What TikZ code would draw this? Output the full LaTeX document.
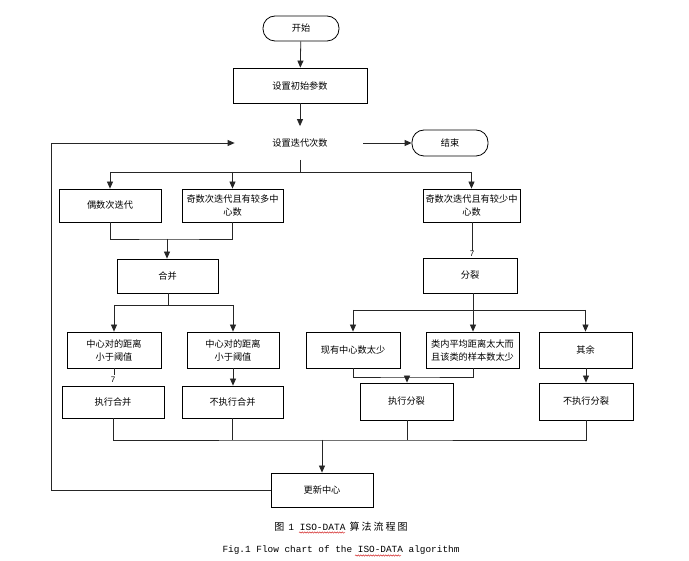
\documentclass[tikz,border=0pt]{standalone}
\usepackage{fontspec}
\setmainfont{Liberation Sans}
\newfontfamily\cjk{Noto Sans CJK SC}
\newfontfamily\capmono{Liberation Mono}
\usetikzlibrary{arrows.meta,decorations.pathmorphing,calc}
\begin{document}
\begin{tikzpicture}[x=1pt,y=-1pt,
  box/.style={draw=black,line width=0.8pt,fill=white,inner sep=0pt,align=center,
    font=\cjk\fontsize{9.2}{13}\selectfont},
  term/.style={box,rounded corners=12pt},
  ln/.style={draw=black!85,line width=0.8pt},
  arr/.style={ln,-{Triangle[length=7pt,width=6pt]}},
  seven/.style={font=\fontsize{8}{8}\selectfont,inner sep=0pt},
  wavy/.style={draw=red!80!black,line width=0.4pt,decorate,
    decoration={snake,amplitude=0.7pt,segment length=2.5pt}}]
\useasboundingbox (0,0) rectangle (689,561);
\fill[white] (0,0) rectangle (689,561);

% nodes
\node[term,minimum width=76pt,minimum height=25pt] (start) at (301,28.5) {开始};
\node[box,minimum width=134pt,minimum height=35pt] (init) at (300,85.5) {设置初始参数};
\node[box,draw=none,fill=none,minimum width=130pt,minimum height=33pt] (iter) at (300,143) {设置迭代次数};
\node[term,minimum width=76pt,minimum height=26pt] (end) at (450,143) {结束};

\node[box,minimum width=102pt,minimum height=33pt] (even) at (110,205.5) {偶数次迭代};
\node[box,minimum width=101pt,minimum height=33pt] (oddmore) at (232.5,205.5) {奇数次迭代且有较多中\\心数};
\node[box,minimum width=97pt,minimum height=33pt] (oddless) at (471.5,205.5) {奇数次迭代且有较少中\\心数};

\node[box,minimum width=101pt,minimum height=34pt] (merge) at (167.5,276) {合并};
\node[box,minimum width=94pt,minimum height=35pt] (split) at (470,275.5) {分裂};

\node[box,minimum width=94pt,minimum height=36pt] (d1) at (114,350) {中心对的距离\\小于阈值};
\node[box,minimum width=92pt,minimum height=36pt] (d2) at (233,350) {中心对的距离\\小于阈值};
\node[box,minimum width=94pt,minimum height=36pt] (few) at (353,350) {现有中心数太少};
\node[box,minimum width=93pt,minimum height=36pt] (big) at (472.5,350) {类内平均距离太大而\\且该类的样本数太少};
\node[box,minimum width=93pt,minimum height=36pt] (rest) at (585.5,350) {其余};

\node[box,minimum width=102pt,minimum height=32pt] (domerge) at (113,402) {执行合并};
\node[box,minimum width=101pt,minimum height=32pt] (nomerge) at (232.5,402) {不执行合并};
\node[box,minimum width=93pt,minimum height=37pt] (dosplit) at (406.5,401.5) {执行分裂};
\node[box,minimum width=94pt,minimum height=37pt] (nosplit) at (586,401.5) {不执行分裂};

\node[box,minimum width=102pt,minimum height=34pt] (update) at (322,490) {更新中心};

% small "7" marks
\node[seven] (s1) at (472,254) {7};
\node[seven] (s2) at (113,379.5) {7};

% helper coordinates
\coordinate (top) at (300,172);
\coordinate (j1) at (167,239);
\coordinate (j2) at (168,305);
\coordinate (j3) at (473,310);
\coordinate (j4) at (407,377);
\coordinate (bot) at (322,440);
\coordinate (fb1) at (51,490);
\coordinate (fb2) at (51,143);

% connectors
\draw[arr] (start) -- (init);
\draw[arr] (init) -- (iter);
\draw[arr] ([xshift=-2pt]iter.east) -- (end);
\draw[ln] (iter.south) -- (top);
\draw[ln] (even.north|-top) -- (oddless.north|-top);
\draw[arr] (even.north|-top) -- (even.north);
\draw[arr] (oddmore.north|-top) -- (oddmore.north);
\draw[arr] (oddless.north|-top) -- (oddless.north);

\draw[ln] (even.south) |- (j1) -| (oddmore.south);
\draw[arr] (j1) -- (merge.north-|j1);

\draw[ln] (merge.south-|j2) -- (j2);
\draw[ln] (d1.north|-j2) -- (d2.north|-j2);
\draw[arr] (d1.north|-j2) -- (d1.north);
\draw[arr] (d2.north|-j2) -- (d2.north);
\draw[ln] (d1.south) -- ($(d1.south)+(0,7)$);
\draw[arr] (d2.south) -- (nomerge.north-|d2.south);

\draw[ln] (oddless.south-|s1) -- ($(s1.north)+(0,-0.5)$);

\draw[ln] (split.south-|j3) -- (j3);
\draw[ln] (few.north|-j3) -- (rest.north|-j3);
\draw[arr] (few.north|-j3) -- (few.north);
\draw[arr] (j3) -- (big.north-|j3);
\draw[arr] (rest.north|-j3) -- (rest.north);
\draw[ln] (few.south) |- (j4) -| (big.south-|j3);
\draw[arr] (j4) -- (dosplit.north-|j4);
\draw[arr] (rest.south-|nosplit.north) -- (nosplit.north);

\draw[ln] (domerge.south) |- (bot) -| (nosplit.south);
\draw[ln] (nomerge.south) -- (nomerge.south|-bot);
\draw[ln] (dosplit.south-|j4) -- (j4|-bot);
\draw[arr] (bot) -- (update.north);

\draw[arr] (update.west) -- (fb1) -- (fb2) -- (iter.west);

% captions
\node[inner sep=0pt] (cap1) at (341,527) {{\cjk\fontsize{10}{10}\selectfont 图}\hspace{4pt}{\capmono\fontsize{9.5}{10}\selectfont 1 ISO-DATA}\hspace{4pt}{\cjk\fontsize{10}{10}\selectfont \addfontfeature{LetterSpace=20}算法流程图}};
\node[inner sep=0pt] (cap2) at (341,550) {\capmono\fontsize{9.4}{10}\selectfont Fig.1 Flow chart of the ISO-DATA algorithm};
\draw[wavy] (299,532.5) -- (345,532.5);
\draw[wavy] (355,555.5) -- (401,555.5);
\end{tikzpicture}
\end{document}
